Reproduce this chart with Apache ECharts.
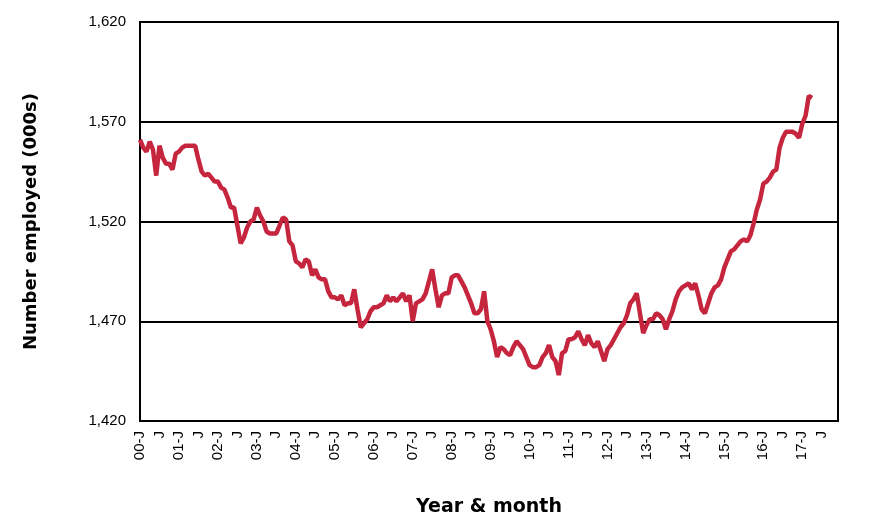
<!DOCTYPE html>
<html>
<head>
<meta charset="utf-8">
<title>Number employed</title>
<script src="https://cdn.jsdelivr.net/npm/echarts@6/dist/echarts.min.js"></script>
<style>
  html, body { margin: 0; padding: 0; background: #fff; }
  #chart { width: 870px; height: 526px; }
</style>
</head>
<body>
<div id="chart"></div>
<script>
// months on the axis: Jan 2000 .. Dec 2017
var years = ['00','01','02','03','04','05','06','07','08','09','10','11','12','13','14','15','16','17'];
var monthCodes = ['01','02','03','04','05','06','07','08','09','10','11','12'];

// semi-annual tick labels (January, July)
var tickLabels = [
  '00-J','J','01-J','J','02-J','J','03-J','J','04-J','J','05-J','J',
  '06-J','J','07-J','J','08-J','J','09-J','J','10-J','J','11-J','J',
  '12-J','J','13-J','J','14-J','J','15-J','J','16-J','J','17-J','J'
];

// number employed (000s), monthly from Jan 2000
var employed2000_2004 = [
  1561, 1557, 1555, 1560, 1556, 1543, 1558, 1552, 1549, 1549, 1546, 1554,
  1555, 1557, 1558, 1558, 1558, 1558, 1551, 1545, 1543, 1544, 1542, 1540,
  1540, 1537, 1536, 1532, 1527, 1527, 1518, 1509, 1512, 1517, 1520, 1521,
  1527, 1523, 1520, 1515, 1514, 1514, 1514, 1518, 1522, 1521, 1510, 1508,
  1500, 1499, 1497, 1501, 1500, 1493, 1496, 1492, 1491, 1491, 1485, 1482
];
var employed2005_2009 = [
  1482, 1481, 1483, 1478, 1479, 1479, 1486, 1476, 1467, 1469, 1471, 1475,
  1477, 1477, 1478, 1479, 1483, 1480, 1482, 1480, 1482, 1484, 1480, 1483,
  1470, 1479, 1480, 1481, 1484, 1490, 1496, 1486, 1477, 1483, 1484, 1484,
  1492, 1493, 1493, 1490, 1487, 1483, 1479, 1474, 1474, 1476, 1485, 1470,
  1466, 1460, 1452, 1457, 1456, 1454, 1453, 1457, 1460, 1458, 1456, 1452
];
var employed2010_2017 = [
  1448, 1447, 1447, 1448, 1452, 1454, 1458, 1452, 1450, 1443, 1454, 1455,
  1461, 1461, 1462, 1465, 1461, 1458, 1463, 1459, 1457, 1460, 1455, 1450,
  1456, 1458, 1461, 1464, 1467, 1469, 1473, 1479, 1481, 1484, 1474, 1464,
  1468, 1471, 1471, 1474, 1473, 1471, 1466, 1471, 1475, 1481, 1485, 1487,
  1488, 1489, 1486, 1489, 1483, 1476, 1474, 1479, 1484, 1487, 1488, 1491,
  1497, 1501, 1505, 1506, 1508, 1510, 1511, 1510, 1513, 1519, 1526, 1531,
  1539, 1540, 1542, 1545, 1546, 1557, 1562, 1565, 1565, 1565, 1564, 1562,
  1569, 1573, 1583, 1582
];

var categories = [];
years.forEach(function (y) {
  monthCodes.forEach(function (m) { categories.push(y + '-' + m); });
});
var employed = employed2000_2004.concat(employed2005_2009, employed2010_2017);

var chart = echarts.init(document.getElementById('chart'));
chart.setOption({
  animation: false,
  backgroundColor: '#fff',
  grid: {
    left: 140, right: 32, top: 22, bottom: 105,
    show: true, borderColor: '#000', borderWidth: 2
  },
  xAxis: {
    type: 'category',
    data: categories,
    boundaryGap: false,
    name: 'Year & month',
    nameLocation: 'middle',
    nameGap: 77,
    nameTextStyle: { fontFamily: 'DejaVu Sans', fontWeight: 'bold', fontSize: 19, color: '#000' },
    axisLine: { lineStyle: { color: '#000', width: 2 } },
    axisTick: { show: false },
    splitLine: { show: false },
    axisLabel: {
      interval: 5,
      rotate: 90,
      margin: 10,
      color: '#000',
      fontFamily: 'Liberation Sans',
      fontSize: 15,
      formatter: function (v, i) { return tickLabels[i / 6]; }
    }
  },
  yAxis: {
    type: 'value',
    min: 1420, max: 1620, interval: 50,
    name: 'Number employed (000s)',
    nameLocation: 'middle',
    nameGap: 100,
    nameTextStyle: { fontFamily: 'DejaVu Sans', fontWeight: 'bold', fontSize: 18, color: '#000' },
    axisLine: { show: true, lineStyle: { color: '#000', width: 2 } },
    axisTick: { show: false },
    splitLine: { lineStyle: { color: '#000', width: 2 } },
    axisLabel: {
      margin: 14,
      color: '#000',
      fontFamily: 'Liberation Sans',
      fontSize: 15,
      formatter: function (v) { return v.toLocaleString('en-US'); }
    }
  },
  series: [{
    type: 'line',
    data: employed,
    symbol: 'none',
    lineStyle: { color: '#C6253E', width: 4.5 },
    itemStyle: { color: '#C6253E' }
  }]
});
</script>
</body>
</html>
